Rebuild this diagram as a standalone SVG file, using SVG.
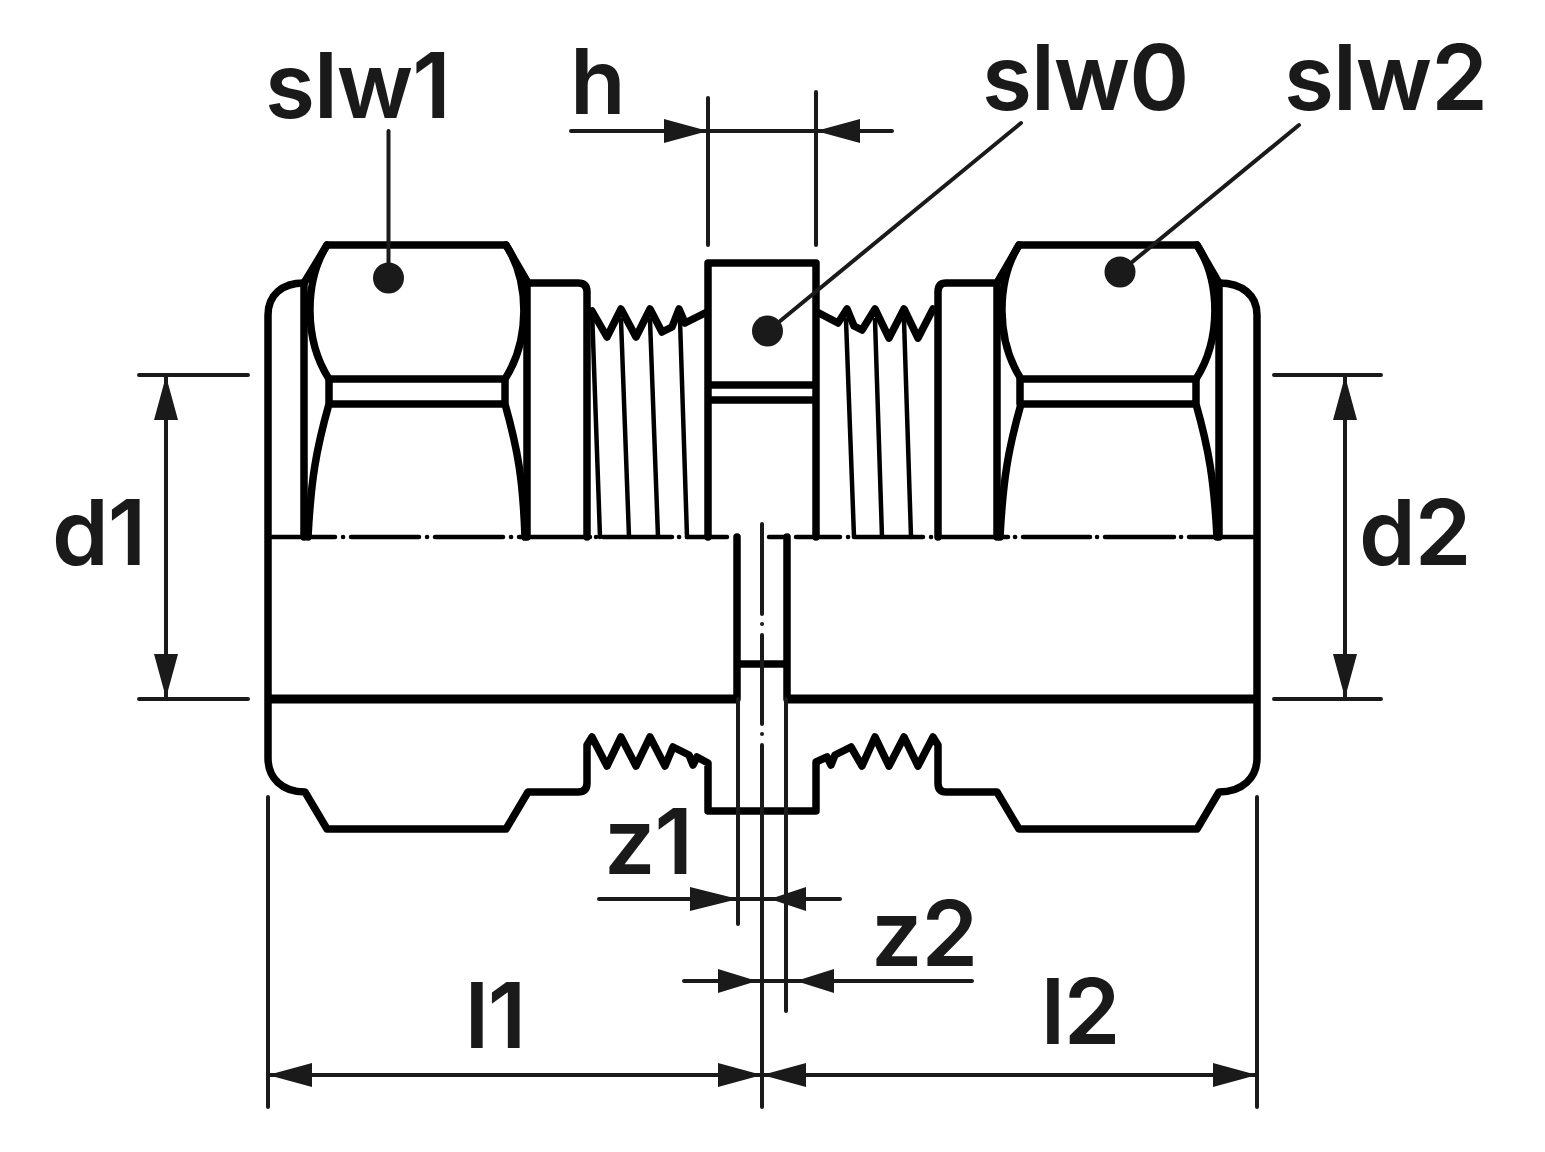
<svg xmlns="http://www.w3.org/2000/svg" width="1545" height="1152" viewBox="0 0 1545 1152">
<style>
.k{fill:none;stroke:#000;stroke-width:7.5;stroke-linecap:round;stroke-linejoin:round}
.m{fill:none;stroke:#000;stroke-width:4.500;stroke-linecap:round;stroke-linejoin:round}
.t{fill:none;stroke:#1a1a1a;stroke-width:4;stroke-linecap:round}
.a,.d{fill:#1a1a1a}
text{font-family:"Inter","Liberation Sans",sans-serif;font-size:91px;font-weight:600;fill:#1a1a1a;letter-spacing:-1px}
</style>
<rect width="1545" height="1152" fill="#fff"/>
<g id="body">
<path class="k" d="M268 315C268 295 282 283 304 283M268 315V758C268 778 282 792 305 792L327 829H506L528 792H578Q587 792 587 783V745L592 737L607 766L621 737L636 766L650 737L665 766L673 747L689 755L693 765L697 757L708 763V811H816V762L827 757L831 765L835 755L851 747L862 766L875 737L889 766L904 737L918 766L933 737L938 745V783Q938 792 946 792H997L1019 829H1197L1219 792C1242 792 1257 778 1257 758V315C1257 295 1242 283 1219 283"/>
<path class="k" d="M304 283V537M527 283V537M304 283L327 245H506L528 283H578Q587 283 587 292V537"/>
<path class="k" d="M327 245C304 282 304 340 329 379H505C530 340 530 282 506 245"/>
<path class="k" d="M329 379V404M505 379V404M329 404H505M329 404C316 450 311 480 308 537M505 404C518 450 523 480 525 537"/>
<path class="k" d="M592 311L607 337L621 309L636 337L650 309L662 332L672 327L679 309L685 323L707 312"/>
<path class="m" d="M592 310L600 537M621 320L629 537M650 320L658 537M680 320L687 537"/>
<path class="k" d="M708 537V263H816V537M708 385H816M708 400H816"/>
<path class="k" d="M817 312L838 323L847 309L854 326L862 330L875 309L889 338L904 309L918 338L933 309"/>
<path class="m" d="M846 320L854 537M875 320L882 537M904 320L911 537"/>
<path class="k" d="M938 537V292Q938 283 946 283H997L1019 245H1197L1219 283V537M997 283V537"/>
<path class="k" d="M1019 245C996 282 996 340 1021 379H1196C1221 340 1221 282 1197 245"/>
<path class="k" d="M1020 379V404M1196 379V404M1020 404H1196M1021 404C1008 450 1003 480 1000 537M1196 404C1209 450 1214 480 1217 537"/>
<path class="k" style="stroke-width:9;stroke-linecap:butt" d="M268 699H740M784 699H1257"/>
<path class="k" d="M737 537V699M787 537V699M737 664H787"/>
</g>
<g id="centrelines">
<path class="m" d="M272 537H335M343 537h.1M351 537H419M427 537h.1M435 537H503M511 537h.1M519 537H590M596 537h.1M603 537H672M679 537h.1M687 537H727M769 537H785M796 537H840M848 537h.1M855 537H923M931 537h.1M938 537H1008M1015 537h.1M1023 537H1090M1097 537h.1M1105 537H1174M1181 537h.1M1189 537H1254"/>
<path class="t" d="M762 524V614M762 624v.1M762 635V724M762 734v.1M762 745V1107"/>
<path class="t" d="M738 699V924M786 699V1011"/>
</g>
<g id="dimensions">
<path class="t" d="M571 131H892M708 98V245M816 92V245"/>
<polygon class="a" points="708,131 664,119 664,143"/><polygon class="a" points="816,131 860,119 860,143"/>
<path class="t" d="M139 375H248M139 699H248M166 376V698M1274 375H1381M1274 699H1381M1345 376V698"/>
<polygon class="a" points="166,376 154,420 178,420"/><polygon class="a" points="166,698 154,654 178,654"/>
<polygon class="a" points="1345,376 1333,420 1357,420"/><polygon class="a" points="1345,698 1333,654 1357,654"/>
<path class="t" d="M599 899H840M684 981H972M268 1075H1257M268 797V1107M1257 797V1107"/>
<polygon class="a" points="738,899 690,887 690,911"/><polygon class="a" points="770,899 806,887 806,911"/>
<polygon class="a" points="757,981 718,969 718,993"/><polygon class="a" points="796,981 834,969 834,993"/>
<polygon class="a" points="268,1075 312,1063 312,1087"/><polygon class="a" points="762,1075 718,1063 718,1087"/>
<polygon class="a" points="762,1075 806,1063 806,1087"/><polygon class="a" points="1257,1075 1213,1063 1213,1087"/>
</g>
<g id="leaders">
<path class="t" d="M388.500 131V275M1021 123L768 331M1299 125L1120 272"/>
<circle class="d" cx="388.500" cy="278" r="15.500"/><circle class="d" cx="767.500" cy="331" r="15.500"/><circle class="d" cx="1120" cy="272" r="15.500"/>
</g>
<g id="labels">
<text x="265" y="118">slw1</text>
<text x="570" y="114">h</text>
<text x="982" y="110">slw0</text>
<text x="1284" y="110">slw2</text>
<text x="52" y="565">d1</text>
<text x="1359" y="565">d2</text>
<text x="604" y="874">z1</text>
<text x="871" y="966">z2</text>
<text x="465" y="1048">l1</text>
<text x="1041" y="1044">l2</text>
</g>
</svg>
